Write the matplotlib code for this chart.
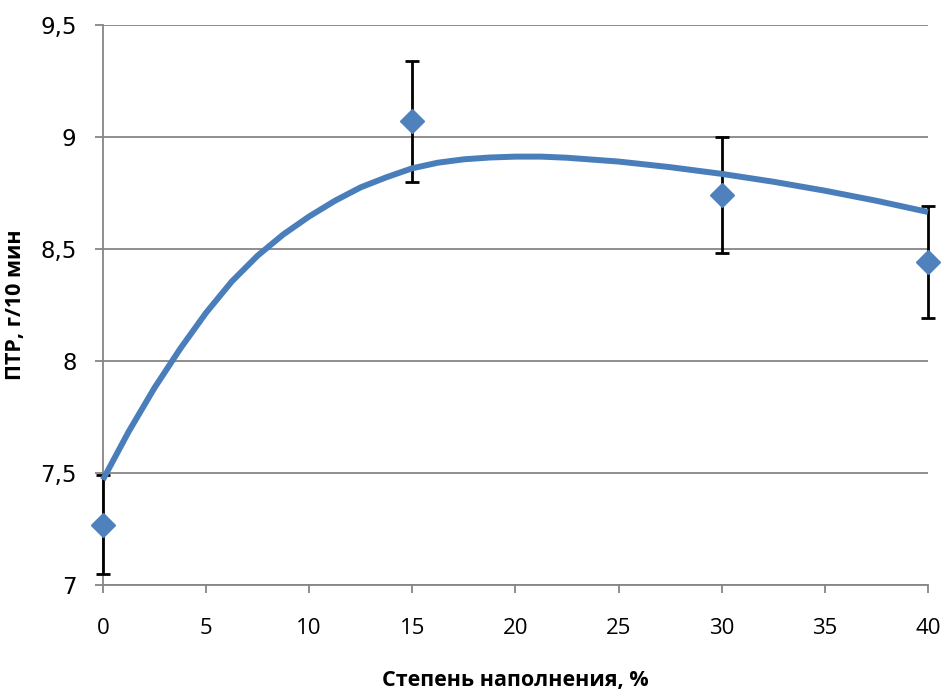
import matplotlib
matplotlib.use("Agg")
import matplotlib.pyplot as plt

# measured points with error bars
fill_pct = [0, 15, 30, 40]
mfr = [7.27, 9.07, 8.74, 8.44]
mfr_err = [0.22, 0.27, 0.26, 0.25]

# trend curve
trend_x = [0, 1.25, 2.5, 3.75, 5, 6.25, 7.5, 8.75, 10, 11.25, 12.5, 13.75,
           15, 16.25, 17.5, 18.75, 20, 21.25, 22.5, 25, 27.5, 30, 32.5, 35,
           37.5, 40]
trend_y = [7.47, 7.685, 7.88, 8.055, 8.215, 8.355, 8.47, 8.565, 8.645, 8.715,
           8.775, 8.82, 8.86, 8.885, 8.90, 8.908, 8.912, 8.912, 8.907, 8.89,
           8.865, 8.835, 8.80, 8.76, 8.715, 8.665]

x_ticks = [0, 5, 10, 15, 20, 25, 30, 35, 40]
y_ticks = [7, 7.5, 8, 8.5, 9, 9.5]
y_labels = ["7", "7,5", "8", "8,5", "9", "9,5"]

blue = "#4A7EBB"
grey = "#868686"

fig = plt.figure(figsize=(9.44, 6.9), dpi=100)
ax = fig.add_axes([0.109, 0.152, 0.874, 0.812])

eb = ax.errorbar(fill_pct, mfr, yerr=mfr_err, fmt="none", ecolor="black",
                 elinewidth=2, capsize=5, capthick=2, zorder=3)
for art in eb.lines[1] + eb.lines[2]:
    art.set_clip_on(False)
ax.plot(trend_x, trend_y, color=blue, lw=4.3, solid_capstyle="butt",
        solid_joinstyle="round", zorder=4, clip_on=False)
ax.plot(fill_pct, mfr, ls="none", marker="D", ms=12, color="#4F81BD",
        mec="#4F81BD", zorder=5, clip_on=False)

ax.set_xlim(0, 40)
ax.set_ylim(7, 9.5)
ax.set_xticks(x_ticks)
ax.set_yticks(y_ticks)
ax.set_yticklabels(y_labels)
ax.yaxis.grid(True, color=grey, lw=1.3)
ax.set_axisbelow(True)

for s in ["top", "right"]:
    ax.spines[s].set_visible(False)
for s in ["left", "bottom"]:
    ax.spines[s].set_color(grey)
    ax.spines[s].set_linewidth(1.3)

ax.tick_params(axis="both", direction="out", color=grey, width=1.3, length=6)
ax.tick_params(axis="x", pad=18)
ax.tick_params(axis="y", pad=13)
for lab in ax.get_xticklabels():
    lab.set_fontfamily("Open Sans")
    lab.set_fontsize(16)
for lab in ax.get_yticklabels():
    lab.set_fontfamily("DejaVu Sans")
    lab.set_fontsize(16.5)

ax.set_xlabel("Степень наполнения, %", fontsize=15.5, fontweight="bold",
              family="Open Sans", labelpad=22)
ax.set_ylabel("ПТР, г/10 мин", fontsize=15.5, fontweight="bold",
              family="Open Sans", labelpad=10)

fig.savefig("out.png", dpi=100)
